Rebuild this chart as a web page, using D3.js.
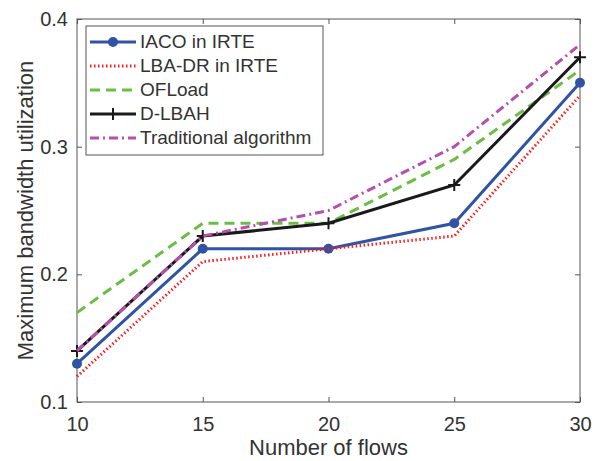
<!DOCTYPE html>
<html>
<head>
<meta charset="utf-8">
<script src="https://d3js.org/d3.v7.min.js"></script>
<style>
  body { margin: 0; background: #fff; }
  svg { display: block; font-family: "Liberation Sans", Arial, sans-serif; }
</style>
</head>
<body>
<div id="chart"></div>
<script>
// data
const flows = [10, 15, 20, 25, 30];
const iaco = [0.13, 0.22, 0.22, 0.24, 0.35];
const lbaDr = [0.12, 0.21, 0.22, 0.23, 0.34];
const ofload = [0.17, 0.24, 0.24, 0.29, 0.36];
const dLbah = [0.14, 0.23, 0.24, 0.27, 0.37];
const traditional = [0.14, 0.23, 0.25, 0.30, 0.38];
const yTicks = [0.1, 0.2, 0.3, 0.4];

const series = [
  { name: "IACO in IRTE", values: iaco, color: "#3053a3", dash: null, marker: "circle" },
  { name: "LBA-DR in IRTE", values: lbaDr, color: "#ff1a1a", dash: "1.5,2.5", marker: null },
  { name: "OFLoad", values: ofload, color: "#6cbd45", dash: "10,6", marker: null },
  { name: "D-LBAH", values: dLbah, color: "#1a1a1a", dash: null, marker: "plus" },
  { name: "Traditional algorithm", values: traditional, color: "#b54fad", dash: "9,4,2,4", marker: null }
];

const W = 601, H = 461;
const margin = { top: 19, right: 21, bottom: 59, left: 77 };

const svg = d3.select("#chart").append("svg")
  .attr("width", W)
  .attr("height", H);

const x = d3.scaleLinear().domain([10, 30]).range([margin.left, W - margin.right]);
const y = d3.scaleLinear().domain([0.1, 0.4]).range([H - margin.bottom, margin.top]);

const axisColor = "#555";
const textColor = "#333";

// box
svg.append("rect")
  .attr("x", x(10)).attr("y", y(0.4))
  .attr("width", x(30) - x(10)).attr("height", y(0.1) - y(0.4))
  .attr("fill", "none").attr("stroke", axisColor).attr("stroke-width", 1);

// axes
const xAxis = svg.append("g")
  .attr("transform", `translate(0,${y(0.1)})`)
  .call(d3.axisBottom(x).tickValues(flows).tickSizeInner(-5).tickSizeOuter(0).tickPadding(15));
const xTop = svg.append("g")
  .attr("transform", `translate(0,${y(0.4)})`)
  .call(d3.axisTop(x).tickValues(flows).tickSizeInner(-5).tickSizeOuter(0).tickFormat(""));
const yAxis = svg.append("g")
  .attr("transform", `translate(${x(10)},0)`)
  .call(d3.axisLeft(y).tickValues(yTicks).tickFormat(d3.format(".1f")).tickSizeInner(-5).tickSizeOuter(0).tickPadding(9));
const yRight = svg.append("g")
  .attr("transform", `translate(${x(30)},0)`)
  .call(d3.axisRight(y).tickValues(yTicks).tickSizeInner(-5).tickSizeOuter(0).tickFormat(""));

[xAxis, xTop, yAxis, yRight].forEach(g => {
  g.select(".domain").remove();
  g.selectAll("line").attr("stroke", axisColor);
  g.selectAll("text").attr("fill", textColor).style("font-size", "20px");
});

// axis titles
svg.append("text")
  .attr("x", (x(10) + x(30)) / 2).attr("y", 455)
  .attr("text-anchor", "middle")
  .attr("fill", textColor).style("font-size", "22px")
  .text("Number of flows");

svg.append("text")
  .attr("transform", `translate(33,${(y(0.1) + y(0.4)) / 2}) rotate(-90)`)
  .attr("text-anchor", "middle")
  .attr("fill", textColor).style("font-size", "22px")
  .text("Maximum bandwidth utilization");

// lines
const line = d3.line().x((d, i) => x(flows[i])).y(d => y(d));

function drawMarker(g, type, cx, cy, color) {
  if (type === "circle") {
    g.append("circle").attr("cx", cx).attr("cy", cy).attr("r", 5).attr("fill", color);
  } else if (type === "plus") {
    g.append("path")
      .attr("d", `M${cx - 6},${cy}H${cx + 6}M${cx},${cy - 6}V${cy + 6}`)
      .attr("stroke", color).attr("stroke-width", 2);
  }
}

series.forEach(s => {
  const g = svg.append("g");
  g.append("path")
    .datum(s.values)
    .attr("d", line)
    .attr("fill", "none")
    .attr("stroke", s.color)
    .attr("stroke-width", 3)
    .attr("stroke-dasharray", s.dash);
  if (s.marker) {
    s.values.forEach((v, i) => drawMarker(g, s.marker, x(flows[i]), y(v), s.color));
  }
});

// legend
const legend = svg.append("g");
legend.append("rect")
  .attr("x", 86).attr("y", 26).attr("width", 237).attr("height", 129)
  .attr("fill", "#fff").attr("stroke", axisColor).attr("stroke-width", 1);

series.forEach((s, i) => {
  const ly = 42 + i * 24;
  legend.append("line")
    .attr("x1", 90).attr("x2", 136).attr("y1", ly).attr("y2", ly)
    .attr("stroke", s.color).attr("stroke-width", 3)
    .attr("stroke-dasharray", s.dash);
  if (s.marker) drawMarker(legend, s.marker, 113, ly, s.color);
  legend.append("text")
    .attr("x", 140).attr("y", ly + 6)
    .attr("fill", textColor).style("font-size", "19px")
    .text(s.name);
});
</script>
</body>
</html>
